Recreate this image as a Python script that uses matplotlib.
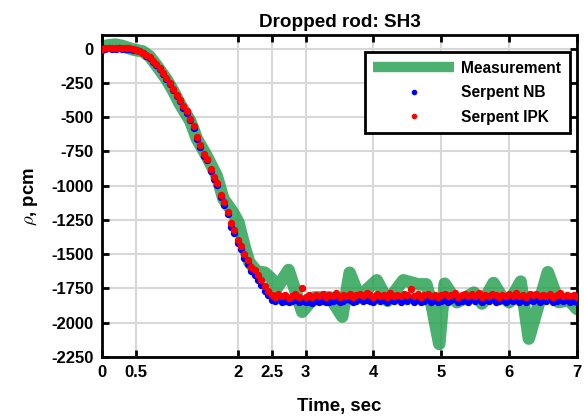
import numpy as np
import matplotlib
matplotlib.use("Agg")
import matplotlib.pyplot as plt
from matplotlib.lines import Line2D

plt.rcParams["font.family"] = ["Liberation Sans", "DejaVu Sans"]
plt.rcParams["font.weight"] = "bold"
plt.rcParams["axes.unicode_minus"] = False
plt.rcParams["mathtext.fontset"] = "cm"

# measurement (thick green line)
meas_t = [0.00, 0.10, 0.20, 0.30, 0.45, 0.60, 0.70, 0.81, 0.95, 1.05, 1.15, 1.30,
          1.40, 1.54, 1.69, 1.79, 1.93, 2.01, 2.06, 2.11, 2.17, 2.28, 2.40, 2.50,
          2.58, 2.75, 2.95, 3.13, 3.36, 3.54, 3.65, 3.79, 4.05, 4.21, 4.44, 4.66,
          4.78, 4.85, 4.97, 5.05, 5.23, 5.33, 5.48, 5.60, 5.77, 5.88, 6.00, 6.17,
          6.29, 6.57, 6.73, 6.88, 7.00]
meas_rho = [15, 25, 30, 20, -5, -20, -55, -126, -223, -308, -405, -527,
            -660, -781, -927, -1097, -1194, -1267, -1364, -1461, -1558, -1625, -1635, -1680,
            -1745, -1615, -1920, -1815, -1815, -1955, -1635, -1810, -1690, -1840, -1690, -1720,
            -1720, -1850, -2155, -1715, -1850, -1825, -1780, -1860, -1710, -1800, -1850, -1700,
            -2116, -1631, -1849, -1835, -1900]

# Serpent simulations, sampled every 0.05 s
sim_t = np.round(np.arange(0, 7.001, 0.05), 2)
ipk = [-5, 3, 6, 2, 5, 8, 3, 6, 2, -2,
       -8, -15, -28, -45, -62, -88, -115, -142, -178, -212,
       -250, -292, -335, -375, -420, -458, -512, -565, -648, -705,
       -770, -805, -878, -935, -978, -1065, -1120, -1190, -1275, -1320,
       -1395, -1440, -1500, -1545, -1590, -1618, -1655, -1690, -1730, -1770,
       -1800, -1815, -1790, -1808, -1795, -1820, -1805, -1792, -1815, -1748,
       -1810, -1800, -1815, -1795, -1808, -1790, -1812, -1798, -1805, -1785,
       -1810, -1795, -1802, -1788, -1812, -1797, -1790, -1806, -1785, -1800,
       -1812, -1792, -1805, -1798, -1810, -1786, -1802, -1794, -1808, -1790,
       -1800, -1755, -1805, -1792, -1812, -1798, -1788, -1806, -1795, -1810,
       -1800, -1790, -1808, -1796, -1785, -1812, -1800, -1792, -1806, -1788,
       -1802, -1780, -1810, -1795, -1805, -1790, -1800, -1812, -1796, -1808,
       -1790, -1802, -1785, -1806, -1795, -1810, -1792, -1800, -1788, -1808,
       -1796, -1805, -1790, -1812, -1798, -1786, -1804, -1795, -1808, -1800,
       -1815]
nb = [-8, -2, 2, -3, 0, 3, -2, 1, -4, -6,
      -12, -20, -33, -52, -70, -95, -120, -150, -185, -220,
      -258, -300, -345, -385, -430, -468, -522, -578, -660, -715,
      -785, -815, -890, -950, -995, -1085, -1140, -1210, -1300, -1345,
      -1420, -1465, -1525, -1570, -1620, -1650, -1690, -1725, -1770, -1800,
      -1835, -1840, -1830, -1845, -1838, -1850, -1842, -1835, -1848, -1840,
      -1852, -1845, -1855, -1840, -1850, -1838, -1846, -1852, -1840, -1835,
      -1848, -1842, -1830, -1836, -1845, -1838, -1826, -1842, -1832, -1840,
      -1848, -1830, -1842, -1836, -1850, -1833, -1840, -1828, -1845, -1835,
      -1842, -1830, -1846, -1834, -1850, -1838, -1826, -1845, -1835, -1852,
      -1840, -1832, -1848, -1836, -1828, -1850, -1842, -1834, -1845, -1830,
      -1840, -1826, -1848, -1836, -1842, -1830, -1846, -1838, -1832, -1848,
      -1835, -1842, -1830, -1845, -1836, -1850, -1834, -1840, -1828, -1846,
      -1836, -1843, -1830, -1848, -1838, -1826, -1844, -1835, -1847, -1838,
      -1850]

xticks = [0, 0.5, 2, 2.5, 3, 4, 5, 6, 7]
xticklabels = ["0", "0.5", "2", "2.5", "3", "4", "5", "6", "7"]
yticks = list(range(0, -2251, -250))

fig = plt.figure(figsize=(5.84, 4.19), dpi=100)
ax = fig.add_axes([102/584, 1-357/419, 475/584, 322/419])

ax.plot(meas_t, meas_rho, color="#1f9e4a", alpha=0.8, lw=9,
        solid_joinstyle="round", solid_capstyle="round", zorder=2)
ax.plot(sim_t, nb, ls="none", marker="o", ms=4.3, color="blue", mec="blue", zorder=3)
ax.plot(sim_t, ipk, ls="none", marker="o", ms=4.3, color="red", mec="red", zorder=4)

ax.set_xlim(0, 7)
ax.set_ylim(-2250, 100)
ax.set_xticks(xticks)
ax.set_xticklabels(xticklabels)
ax.set_yticks(yticks)
ax.set_yticklabels([str(v) for v in yticks])
ax.tick_params(direction="in", length=5, width=2, top=True, right=True,
               labelsize=12, pad=6)
ax.grid(True, color="#d8d8d8", lw=1.5)
ax.set_axisbelow(True)
for s in ax.spines.values():
    s.set_linewidth(2)

ax.set_title("Dropped rod: SH3", fontsize=13.6, fontweight="bold", pad=6)
ax.set_xlabel("Time, sec", fontsize=13.4, fontweight="bold", labelpad=13)
ax.set_ylabel(r"$\rho$, pcm", fontsize=13.4, fontweight="bold", labelpad=8)

handles = [Line2D([], [], color="#1f9e4a", alpha=0.8, lw=7.5, solid_capstyle="butt"),
           Line2D([], [], ls="none", marker="o", ms=3, color="blue"),
           Line2D([], [], ls="none", marker="o", ms=3, color="red")]
leg = ax.legend(handles, ["Measurement", "Serpent NB", "Serpent IPK"],
                loc="upper right", bbox_to_anchor=(0.985, 0.947), borderaxespad=0,
                fontsize=11.2, handlelength=5.2, handletextpad=0.45,
                labelspacing=0.62, borderpad=0.55, fancybox=False,
                framealpha=1, numpoints=1)
leg.get_frame().set_edgecolor("black")
leg.get_frame().set_linewidth(2)

fig.savefig("out.png", dpi=100)
